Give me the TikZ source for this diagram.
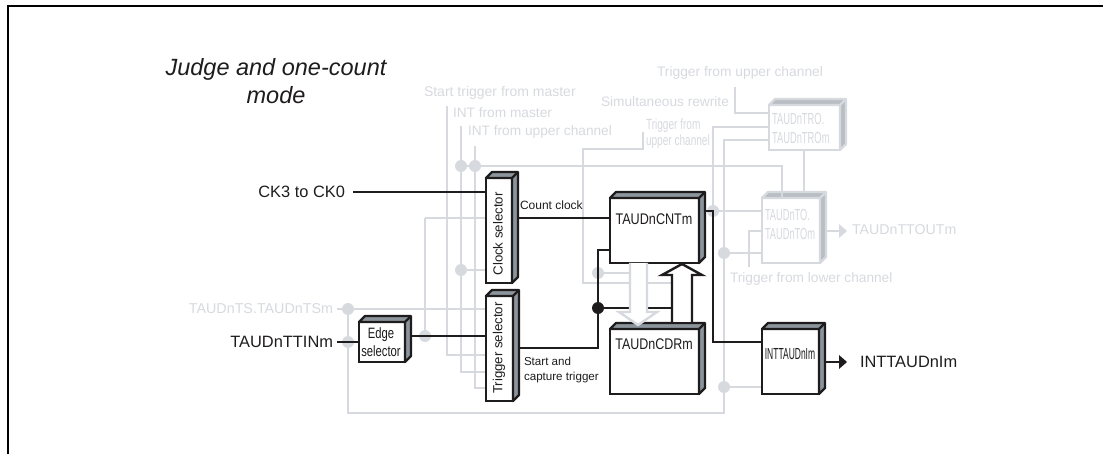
\documentclass[tikz,border=0pt]{standalone}
\usepackage{fontspec}
\setmainfont{Liberation Sans}
\usetikzlibrary{calc}
\definecolor{wiregray}{HTML}{D6D9DE}
\definecolor{facegray}{HTML}{8C949C}
\definecolor{fadegray}{HTML}{B9BEC5}
\definecolor{inkblack}{HTML}{1E1C1D}
\newcommand{\fsz}[1]{\fontsize{#1}{#1}\selectfont}
\tikzset{
  block/.style={draw=inkblack, fill=white, line width=2.4, inner sep=0, outer sep=0, anchor=north west},
  fadeblock/.style={block, draw=wiregray},
  wire/.style={draw=inkblack, line width=2.4},
  fadewire/.style={draw=wiregray, line width=2.4},
  fadedot/.style={circle, fill=wiregray, inner sep=0, minimum size=12},
  inkdot/.style={circle, fill=inkblack, inner sep=0, minimum size=12},
  ink/.style={text=inkblack, inner sep=0, outer sep=0},
  fade/.style={text=wiregray, inner sep=0, outer sep=0},
}
% top and right faces of a block
\newcommand{\blockside}[3]{%
  \draw[line width=2.4, draw=#2, fill=#3, line join=round]
    (#1.north west) -- ++(6,-6) -- ($(#1.north east)+(6,-6)$) -- ($(#1.south east)+(6,-6)$)
    -- (#1.south east) -- (#1.north east) -- cycle;
  \draw[line width=2.4, draw=#2] (#1.north east) -- ++(6,-6);
}
\begin{document}
\begin{tikzpicture}[x=1pt, y=-1pt]
\useasboundingbox (0,0) rectangle (1103,454);
% frame
\coordinate (frameb) at (8,454);
\coordinate (framec) at (8,6.5);
\coordinate (framer) at (1103,6.5);
\draw[line width=2, draw=black] (frameb) -- (framec) -- (framer);
% title
\node[ink, align=center, font=\fsz{23.5}\itshape] (title) at (276,81)
  {\fsz{23.5}Judge and one-count\\[4pt]\fsz{23.5}mode};

% faded labels
\node[fade, anchor=west, font=\fsz{14}] (startlbl) at (424,93) {Start trigger from master};
\node[fade, anchor=west, font=\fsz{13.7}] (intmlbl) at (453,113) {INT from master};
\node[fade, anchor=west, font=\fsz{13.7}] (intulbl) at (468,132) {INT from upper channel};
\node[fade, anchor=west, font=\fsz{13.8}] (trigtoplbl) at (657,73) {Trigger from upper channel};
\node[fade, anchor=west, font=\fsz{13.7}] (simlbl) at (601,102) {Simultaneous rewrite};
\node[fade, anchor=west, font=\fsz{13.7}] (trigloclbl) at (730,279) {Trigger from lower channel};
\node[fade, anchor=east, font=\fsz{14.3}] (tslbl) at (333,309) {TAUDnTS.TAUDnTSm};
\node[fade, anchor=west, font=\fsz{14.2}] (toutlbl) at (852,230) {TAUDnTTOUTm};
\node[fade, anchor=west, align=left, font=\fsz{14.8}, xscale=.68] (trigsmall) at (646,134)
  {Trigger from\\[1pt]upper channel};

% faded blocks
\node[fadeblock, minimum width=71, minimum height=45] (tro) at (769,105) {};
\node[fadeblock, minimum width=58, minimum height=65] (tos) at (762,198) {};
\blockside{tro}{wiregray}{fadegray}
\blockside{tos}{wiregray}{fadegray}
\node[fade, anchor=west, font=\fsz{16}, xscale=.585] (trolbla) at (772,119) {TAUDnTRO.};
\node[fade, anchor=west, font=\fsz{16}, xscale=.585] (trolblb) at (772,138) {TAUDnTROm};
\node[fade, anchor=west, font=\fsz{16}, xscale=.58] (tolbla) at (765,215) {TAUDnTO.};
\node[fade, anchor=west, font=\fsz{16}, xscale=.58] (tolblb) at (765,234) {TAUDnTOm};

% faded dots
\node[fadedot] (dotmaster) at (461,166) {};
\node[fadedot] (dotupper) at (475,166) {};
\node[fadedot] (dotclk) at (461,270) {};
\node[fadedot] (dotedge) at (425,336) {};
\node[fadedot] (dotts) at (348,309) {};
\node[fadedot] (dottin) at (348,342) {};
\node[fadedot] (dotcnt) at (598,273) {};
\node[fadedot] (dotrel) at (713,211) {};
\node[fadedot] (dotto) at (724,253) {};
\node[fadedot] (dotint) at (724,387) {};

% free ends of the faded wires
\coordinate (startin) at (447,106);
\coordinate (intmin) at (461,126);
\coordinate (intuin) at (475,146);
\coordinate (tsin) at (337,309);
\coordinate (trigup) at (643,132);
\coordinate (toptrig) at (735,87);
\coordinate (relup) at (713,127);
\coordinate (lowin) at (749,267);
\coordinate (lowto) at (762,231);
\coordinate (toout) at (826,231);
\coordinate (totip) at (847,231);
\coordinate (cdrleft) at (583,149);
\coordinate (trigbus) at (583,283);
\coordinate (busend) at (672,283);
\coordinate (clkbus) at (425,218);
\coordinate (startbus) at (447,355);
\coordinate (intmbus) at (461,372);
\coordinate (intubus) at (475,388);
\coordinate (retbl) at (348,413);
\coordinate (retbr) at (724,413);
\coordinate (rettop) at (724,140);
\coordinate (toptie) at (782,166);

% faded wires
\draw[fadewire] (startin) -- (startbus) -- (486,355);
\draw[fadewire] (intmin) -- (dotmaster);
\draw[fadewire] (dotmaster) -- (intmbus) -- (486,372);
\draw[fadewire] (intuin) -- (dotupper);
\draw[fadewire] (dotupper) -- (intubus) -- (486,388);
\draw[fadewire] (dotmaster) -- (dotupper) -- (toptie) -- (tos.north -| toptie);
\draw[fadewire] (clkbus) -- (486,218);
\draw[fadewire] (clkbus) -- (dotedge);
\draw[fadewire] (dotclk) -- (486,270);
\draw[fadewire] (tsin) -- (dotts) -- (486,309);
\draw[fadewire] (dotts) -- (dottin) -- (retbl) -- (retbr) -- (rettop) -- (tro.west |- rettop);
\draw[fadewire] (trigup) -- (643,149) -- (cdrleft) -- (trigbus) -- (busend);
\draw[fadewire] (dotcnt) -- (630,273);
\draw[fadewire] (toptrig) |- (tro.west |- 0,113);
\draw[fadewire] (tro.west |- relup) -- (relup) -- (dotrel) -- (tos.west |- dotrel);
\draw[fadewire] (dotto) -- (tos.west |- dotto);
\draw[fadewire] (dotint) -- (762,387);
\draw[fadewire] (lowin) |- (lowto);
\draw[fadewire] (tro.south -| 804,0) -- (804,192);
\draw[fadewire] (toout) -- (842,231);
\fill[wiregray] (totip) -- ++(-8,-7) -- ++(0,14) -- cycle;

% black blocks
\node[block, minimum width=26, minimum height=105] (clksel) at (486,178) {};
\node[block, minimum width=27, minimum height=105] (trgsel) at (486,296) {};
\node[block, minimum width=46, minimum height=40] (edgesel) at (359,322) {};
\node[block, minimum width=89, minimum height=65] (cnt) at (610,198) {};
\node[block, minimum width=89, minimum height=65] (cdr) at (610,329) {};
\node[block, minimum width=57, minimum height=65] (inttau) at (762,329) {};
\foreach \nm in {clksel,trgsel,edgesel,cnt,cdr,inttau} {
  \blockside{\nm}{inkblack}{facegray}
}
\node[ink, rotate=90, font=\fsz{13.2}] (clklbl) at (498,234) {Clock selector};
\node[ink, rotate=90, font=\fsz{13.2}] (trglbl) at (499,348) {Trigger selector};
\node[ink, align=center, font=\fsz{15}, xscale=.75] (edgelbl) at (381,342)
  {Edge\\[3pt]selector};
\node[ink, font=\fsz{15.4}, xscale=.82] (cntlbl) at (654,219) {TAUDnCNTm};
\node[ink, font=\fsz{15.4}, xscale=.81] (cdrlbl) at (654,344) {TAUDnCDRm};
\node[ink, font=\fsz{16}, xscale=.53] (intlbl) at (790,354) {INTTAUDnIm};

% black labels
\node[ink, anchor=east, font=\fsz{16.4}] (cklbl) at (345,192) {CK3 to CK0};
\node[ink, anchor=east, font=\fsz{16.4}] (ttinlbl) at (333,342) {TAUDnTTINm};
\node[ink, anchor=west, font=\fsz{16.4}] (outlbl) at (860,362) {INTTAUDnIm};
\node[ink, anchor=west, font=\fsz{12}] (countlbl) at (520,205) {Count clock};
\node[ink, anchor=west, align=left, font=\fsz{11.6}] (caplbl) at (524,370)
  {Start and\\[3pt]capture trigger};

% black wires
\coordinate (ckin) at (353,192);
\coordinate (ttinin) at (337,342);
\coordinate (clkout) at (518,218);
\coordinate (edgeout) at (412,336);
\coordinate (trgout) at (519,348);
\coordinate (cntout) at (706,211);
\coordinate (intout) at (826,362);
\coordinate (inttip) at (847,362);
\coordinate (capstop) at (673,308);
\node[inkdot] (dotcap) at (598,308) {};
\draw[wire] (ckin) -- (clksel.west |- ckin);
\draw[wire] (ttinin) -- (edgesel.west |- ttinin);
\draw[wire] (clkout) -- (cnt.west |- clkout);
\draw[wire] (edgeout) -- (trgsel.west |- edgeout);
\draw[wire] (trgout) -| (dotcap);
\draw[wire] (dotcap) |- (cnt.west |- 0,250);
\draw[wire] (dotcap) -- (capstop);
\draw[wire] (cntout) -| (713,342) -- (inttau.west |- 0,342);
\draw[wire] (intout) -- (842,362);
\fill[inkblack] (inttip) -- ++(-8,-7) -- ++(0,14) -- cycle;

% data arrows
\coordinate (downtip) at (638,325);
\coordinate (uptip) at (682,264);
\draw[fadewire, fill=white, line join=miter] (630,263) -- (630,312) -- (619,312) -- (downtip)
  -- (657,312) -- (647,312) -- (647,263);
\draw[wire, fill=white, line join=miter] (672,322) -- (672,275) -- (662,275) -- (uptip)
  -- (702,275) -- (692,275) -- (692,322);
\end{tikzpicture}
\end{document}
